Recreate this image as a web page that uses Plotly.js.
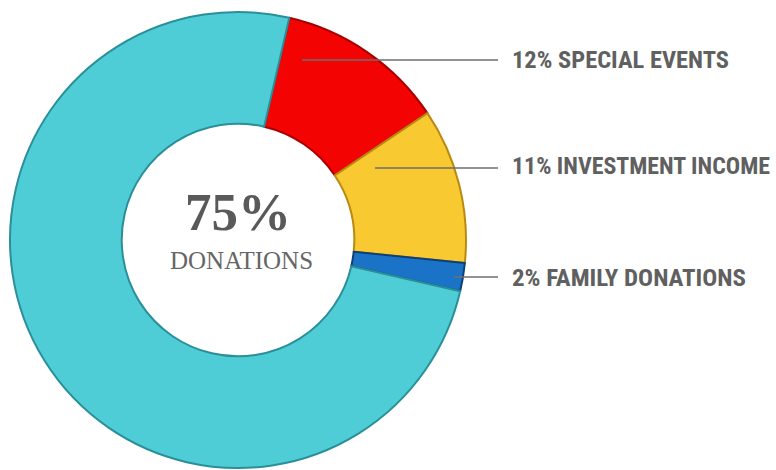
<!DOCTYPE html>
<html>
<head>
<meta charset="utf-8">
<script src="https://cdn.plot.ly/plotly-3.0.1.min.js"></script>
<style>html,body{margin:0;padding:0;background:#fff;}#chart{width:776px;height:470px;}</style>
</head>
<body>
<div id="chart"></div>
<script>
// Data
const categories = ["SPECIAL EVENTS", "INVESTMENT INCOME", "FAMILY DONATIONS", "DONATIONS"];
const values = [12, 11, 2, 75];
const sliceColors = ["#f40303", "#f8c930", "#1a73c6", "#4fcdd6"];
const edgeColors = ["#a80000", "#b88a10", "#0d3f78", "#2a8f98"];
const outsideLabels = ["12% SPECIAL EVENTS", "11% INVESTMENT INCOME", "2% FAMILY DONATIONS"];

const W = 776, H = 470;
const px = x => x / W;
const py = y => 1 - y / H;

const textGray = "#606060";
const labelFont = {family: "'Roboto Condensed', 'Liberation Sans Narrow', 'DejaVu Sans Condensed', sans-serif", size: 24, color: textGray, weight: 700};

// leader line anchor points (pixels) and label rows
const leaderStart = [[302, 60], [375, 168], [454, 277]];
const leaderEnd = 498;
const labelX = 510;
const labelY = [60, 166, 278];
const labelWidths = [217, 258, 234];

const shapes = leaderStart.map((p, i) => ({
  type: "line", xref: "paper", yref: "paper",
  x0: px(p[0]), y0: py(p[1]), x1: px(leaderEnd), y1: py(p[1]),
  line: {color: "#6e6e6e", width: 1.5}
}));

const annotations = outsideLabels.map((t, i) => ({
  text: t, xref: "paper", yref: "paper",
  x: px(labelX), y: py(labelY[i]), xanchor: "left", yanchor: "middle",
  showarrow: false, font: labelFont
}));

annotations.push({
  text: values[3] + "%", xref: "paper", yref: "paper",
  x: px(238), y: py(212), xanchor: "center", yanchor: "middle", showarrow: false,
  font: {family: "'Liberation Serif', 'DejaVu Serif', serif", size: 53, color: "#595959", weight: 700}
});
annotations.push({
  text: categories[3], xref: "paper", yref: "paper",
  x: px(241), y: py(260), xanchor: "center", yanchor: "middle", showarrow: false,
  font: {family: "'Liberation Serif', 'DejaVu Serif', serif", size: 25, color: "#666666"}
});

const trace = {
  type: "pie",
  labels: categories,
  values: values,
  sort: false,
  direction: "clockwise",
  rotation: 13,
  hole: 0.51,
  textinfo: "none",
  hoverinfo: "label+percent",
  marker: {colors: sliceColors, line: {color: edgeColors, width: 2}},
  domain: {x: [px(8), px(468)], y: [py(468), py(12)]},
  showlegend: false
};

Plotly.newPlot("chart", [trace], {
  width: W, height: H,
  margin: {l: 0, r: 0, t: 0, b: 0},
  paper_bgcolor: "#ffffff",
  showlegend: false,
  shapes: shapes,
  annotations: annotations
}, {displayModeBar: false, staticPlot: true}).then(() => {
  // compress the condensed labels to the reference widths, keeping the left edge
  const texts = document.querySelectorAll("#chart .annotation-text");
  texts.forEach((el, i) => {
    if (i < labelWidths.length) {
      const w = el.getComputedTextLength();
      const cx = parseFloat(el.getAttribute("x")) || 0;
      const left = cx - w / 2;
      el.setAttribute("x", left);
      el.setAttribute("text-anchor", "start");
      el.style.textAnchor = "start";
      el.setAttribute("textLength", labelWidths[i]);
      el.setAttribute("lengthAdjust", "spacingAndGlyphs");
    }
  });
});
</script>
</body>
</html>
